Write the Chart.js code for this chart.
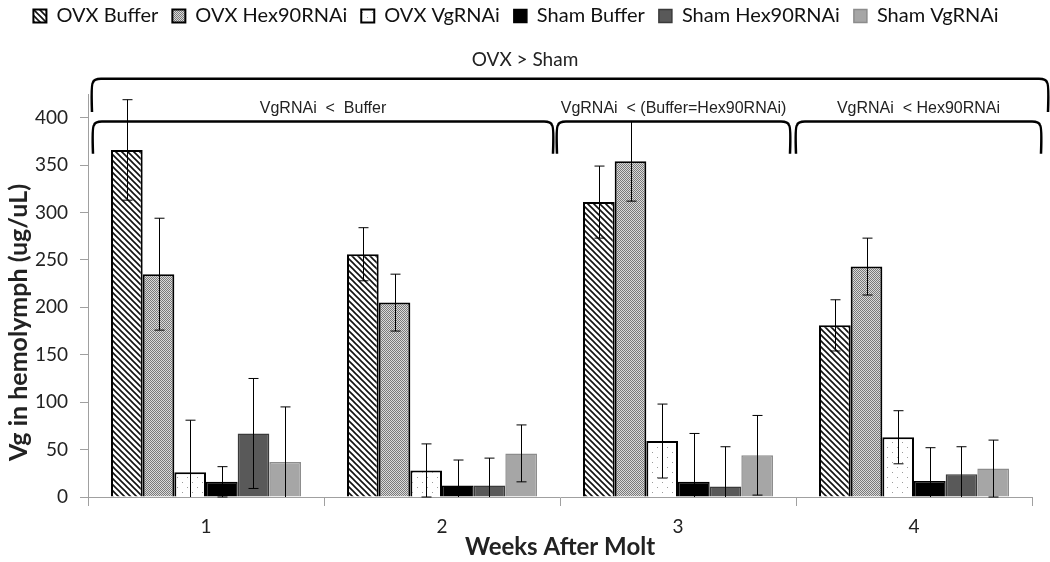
<!DOCTYPE html>
<html>
<head>
<meta charset="utf-8">
<script src="https://cdn.jsdelivr.net/npm/chart.js@4.4.1/dist/chart.umd.min.js"></script>
<style>
  html, body { margin: 0; padding: 0; background: #fff; }
  #wrap { width: 1050px; height: 562px; }
</style>
</head>
<body>
<div id="wrap"><canvas id="myChart"></canvas></div>
<script>
// data
const weeks = ["1", "2", "3", "4"];
const seriesNames = ["OVX Buffer", "OVX Hex90RNAi", "OVX VgRNAi", "Sham Buffer", "Sham Hex90RNAi", "Sham VgRNAi"];

const ovxBuffer = [366, 256, 311, 181];
const ovxHex = [235, 205, 354, 243];
const ovxVg = [26, 28, 59, 63];
const shamBuffer = [16, 12, 16, 17];
const shamHex = [67, 12, 11, 24];
const shamVg = [37, 46, 44, 30];

// +/- error (symmetric)
const ovxBufferErr = [53, 28, 38, 27];
const ovxHexErr = [59, 30, 42, 30];
const ovxVgErr = [55, 28, 39, 28];
const shamBufferErr = [16, 27, 51, 35];
const shamHexErr = [58, 29, 42, 29];
const shamVgErr = [58, 30, 42, 30];

const yTicks = [0, 50, 100, 150, 200, 250, 300, 350, 400];
const yTitle = "Vg in hemolymph (ug/uL)";

// significance brackets (text, first week index, last week index)
const topNote = "OVX > Sham";
const groupNotes = [
  { text: "VgRNAi  <  Buffer", from: 0, to: 1 },
  { text: "VgRNAi  < (Buffer=Hex90RNAi)", from: 2, to: 2 },
  { text: "VgRNAi  < Hex90RNAi", from: 3, to: 3 },
];

const FONT = "Lato, 'Noto Sans', sans-serif";

// fill patterns
const makePattern = (size, draw) => {
  const c = document.createElement("canvas");
  c.width = size; c.height = size;
  const g = c.getContext("2d");
  draw(g, size);
  return g.createPattern(c, "repeat");
};

const hatch = makePattern(6, (g, s) => {
  g.fillStyle = "#fff"; g.fillRect(0, 0, s, s);
  g.strokeStyle = "#111"; g.lineWidth = 1.6;
  g.beginPath();
  g.moveTo(-1, -1); g.lineTo(s + 1, s + 1);
  g.moveTo(-1, s - 1); g.lineTo(1, s + 1);
  g.moveTo(s - 1, -1); g.lineTo(s + 1, 1);
  g.stroke();
});

const dotted = makePattern(2, (g, s) => {
  g.fillStyle = "#dadada"; g.fillRect(0, 0, s, s);
  g.fillStyle = "#7a7a7a";
  g.fillRect(0, 0, 1, 1);
  g.fillRect(1, 1, 1, 1);
});

const sparse = makePattern(10, (g, s) => {
  g.fillStyle = "#fff"; g.fillRect(0, 0, s, s);
  g.fillStyle = "#9a9a9a";
  g.fillRect(2, 2, 1, 1);
  g.fillRect(7, 7, 1, 1);
});

const values = [ovxBuffer, ovxHex, ovxVg, shamBuffer, shamHex, shamVg];
const errors = [ovxBufferErr, ovxHexErr, ovxVgErr, shamBufferErr, shamHexErr, shamVgErr];
const fills = [hatch, dotted, sparse, "#000000", "#595959", "#a6a6a6"];
const borders = ["#000", "#000", "#000", "#000", "#3a3a3a", "#8c8c8c"];
const borderWidths = [2, 2, 2, 1.5, 1.5, 1.5];

// error bars drawn at each bar's position
const errorBars = {
  id: "errorBars",
  afterDatasetsDraw(chart) {
    const ctx = chart.ctx;
    const y = chart.scales.y;
    ctx.save();
    ctx.strokeStyle = "#000";
    ctx.lineWidth = 1;
    chart.data.datasets.forEach((ds, i) => {
      chart.getDatasetMeta(i).data.forEach((bar, j) => {
        const v = ds.data[j], e = errors[i][j];
        const top = y.getPixelForValue(v + e);
        const low = v - e;
        const bot = y.getPixelForValue(Math.max(low, 0));
        const x = Math.round(bar.x) + 0.5;
        ctx.beginPath();
        ctx.moveTo(x, top); ctx.lineTo(x, bot);
        ctx.moveTo(x - 5, top); ctx.lineTo(x + 5, top);
        if (low >= 0) { ctx.moveTo(x - 5, bot); ctx.lineTo(x + 5, bot); }
        ctx.stroke();
      });
    });
    ctx.restore();
  },
};

// curly-ended brackets with labels above the bars, plus the y title
const brackets = {
  id: "brackets",
  afterDraw(chart) {
    const ctx = chart.ctx;
    const x = chart.scales.x, y = chart.scales.y;
    const half = (x.getPixelForValue(1) - x.getPixelForValue(0)) / 2;
    const bracket = (xl, xr, yt, yb) => {
      const r = 9;
      ctx.beginPath();
      ctx.moveTo(xl, yb);
      ctx.quadraticCurveTo(xl - 1, yt + r * 0.6, xl + 1, yt + r * 0.4);
      ctx.quadraticCurveTo(xl + 2, yt, xl + r, yt);
      ctx.lineTo(xr - r, yt);
      ctx.quadraticCurveTo(xr - 2, yt, xr - 1, yt + r * 0.4);
      ctx.quadraticCurveTo(xr + 1, yt + r * 0.6, xr, yb);
      ctx.stroke();
    };
    ctx.save();
    ctx.strokeStyle = "#000";
    ctx.lineWidth = 2.5;
    ctx.fillStyle = "#222";
    ctx.textAlign = "center";
    ctx.textBaseline = "middle";

    // overall OVX vs Sham bracket
    const bt = y.getPixelForValue(441), bb = y.getPixelForValue(406);
    bracket(x.getPixelForValue(0) - half + 4, x.getPixelForValue(3) + half + 16, bt, bb);
    ctx.font = "19px " + FONT;
    ctx.fillText(topNote, chart.width / 2, bt - 19);

    // per-week brackets
    const gt = y.getPixelForValue(396), gb = y.getPixelForValue(362);
    const gaps = [[5, -7], [-3, -6], [0, 9]];
    ctx.font = "16px 'Liberation Sans', Arial, sans-serif";
    groupNotes.forEach((n, k) => {
      const xl = x.getPixelForValue(n.from) - half + gaps[k][0];
      const xr = x.getPixelForValue(n.to) + half + gaps[k][1];
      bracket(xl, xr, gt, gb);
      ctx.fillText(n.text, (xl + xr) / 2, gt - 13);
    });

    // y axis title, sits a bit low like in the source figure
    ctx.save();
    ctx.translate(19, y.getPixelForValue(184));
    ctx.rotate(-Math.PI / 2);
    ctx.font = "bold 25px " + FONT;
    ctx.fillText(yTitle, 0, 0);
    ctx.restore();
    ctx.restore();
  },
};

// keep the legend strip tall enough for the brackets
const legendSpace = {
  id: "legendSpace",
  beforeInit(chart) {
    const fit = chart.legend.fit;
    chart.legend.fit = function () {
      fit.bind(chart.legend)();
      this.height = 102;
    };
  },
};

const config = {
  type: "bar",
  data: {
    labels: weeks,
    datasets: seriesNames.map((name, i) => ({
      label: name,
      data: values[i],
      backgroundColor: fills[i],
      borderColor: borders[i],
      borderWidth: borderWidths[i],
      borderSkipped: "start",
      categoryPercentage: 0.805,
      barPercentage: 1.0,
    })),
  },
  options: {
    responsive: true,
    maintainAspectRatio: false,
    animation: false,
    layout: { padding: { left: 0, right: 18, top: -8, bottom: 0 } },
    plugins: {
      legend: {
        position: "top",
        align: "center",
        labels: {
          color: "#111",
          font: { family: FONT, size: 20 },
          boxWidth: 13,
          boxHeight: 13,
          padding: 14,
        },
      },
      tooltip: { enabled: false },
    },
    scales: {
      x: {
        offset: true,
        afterFit: (s) => { s.height = 65; },
        grid: { display: true, drawOnChartArea: false, offset: true, tickLength: 9, color: "#a0a0a0" },
        border: { color: "#a0a0a0" },
        ticks: { color: "#222", font: { family: FONT, size: 19 }, padding: 9 },
        title: {
          display: true,
          text: "Weeks After Molt",
          color: "#222",
          font: { family: FONT, size: 24, weight: "bold" },
          padding: { top: 0, bottom: 0 },
        },
      },
      y: {
        min: 0,
        max: 425,
        afterFit: (s) => { s.width = 88; },
        afterBuildTicks: (s) => { s.ticks = yTicks.map((v) => ({ value: v })); },
        grid: { display: true, drawOnChartArea: false, tickLength: 8, color: "#a0a0a0" },
        border: { color: "#a0a0a0" },
        ticks: { color: "#222", font: { family: FONT, size: 19 }, padding: 12 },
      },
    },
  },
  plugins: [legendSpace, errorBars, brackets],
};

const myChart = new Chart(document.getElementById("myChart"), config);
</script>
</body>
</html>
